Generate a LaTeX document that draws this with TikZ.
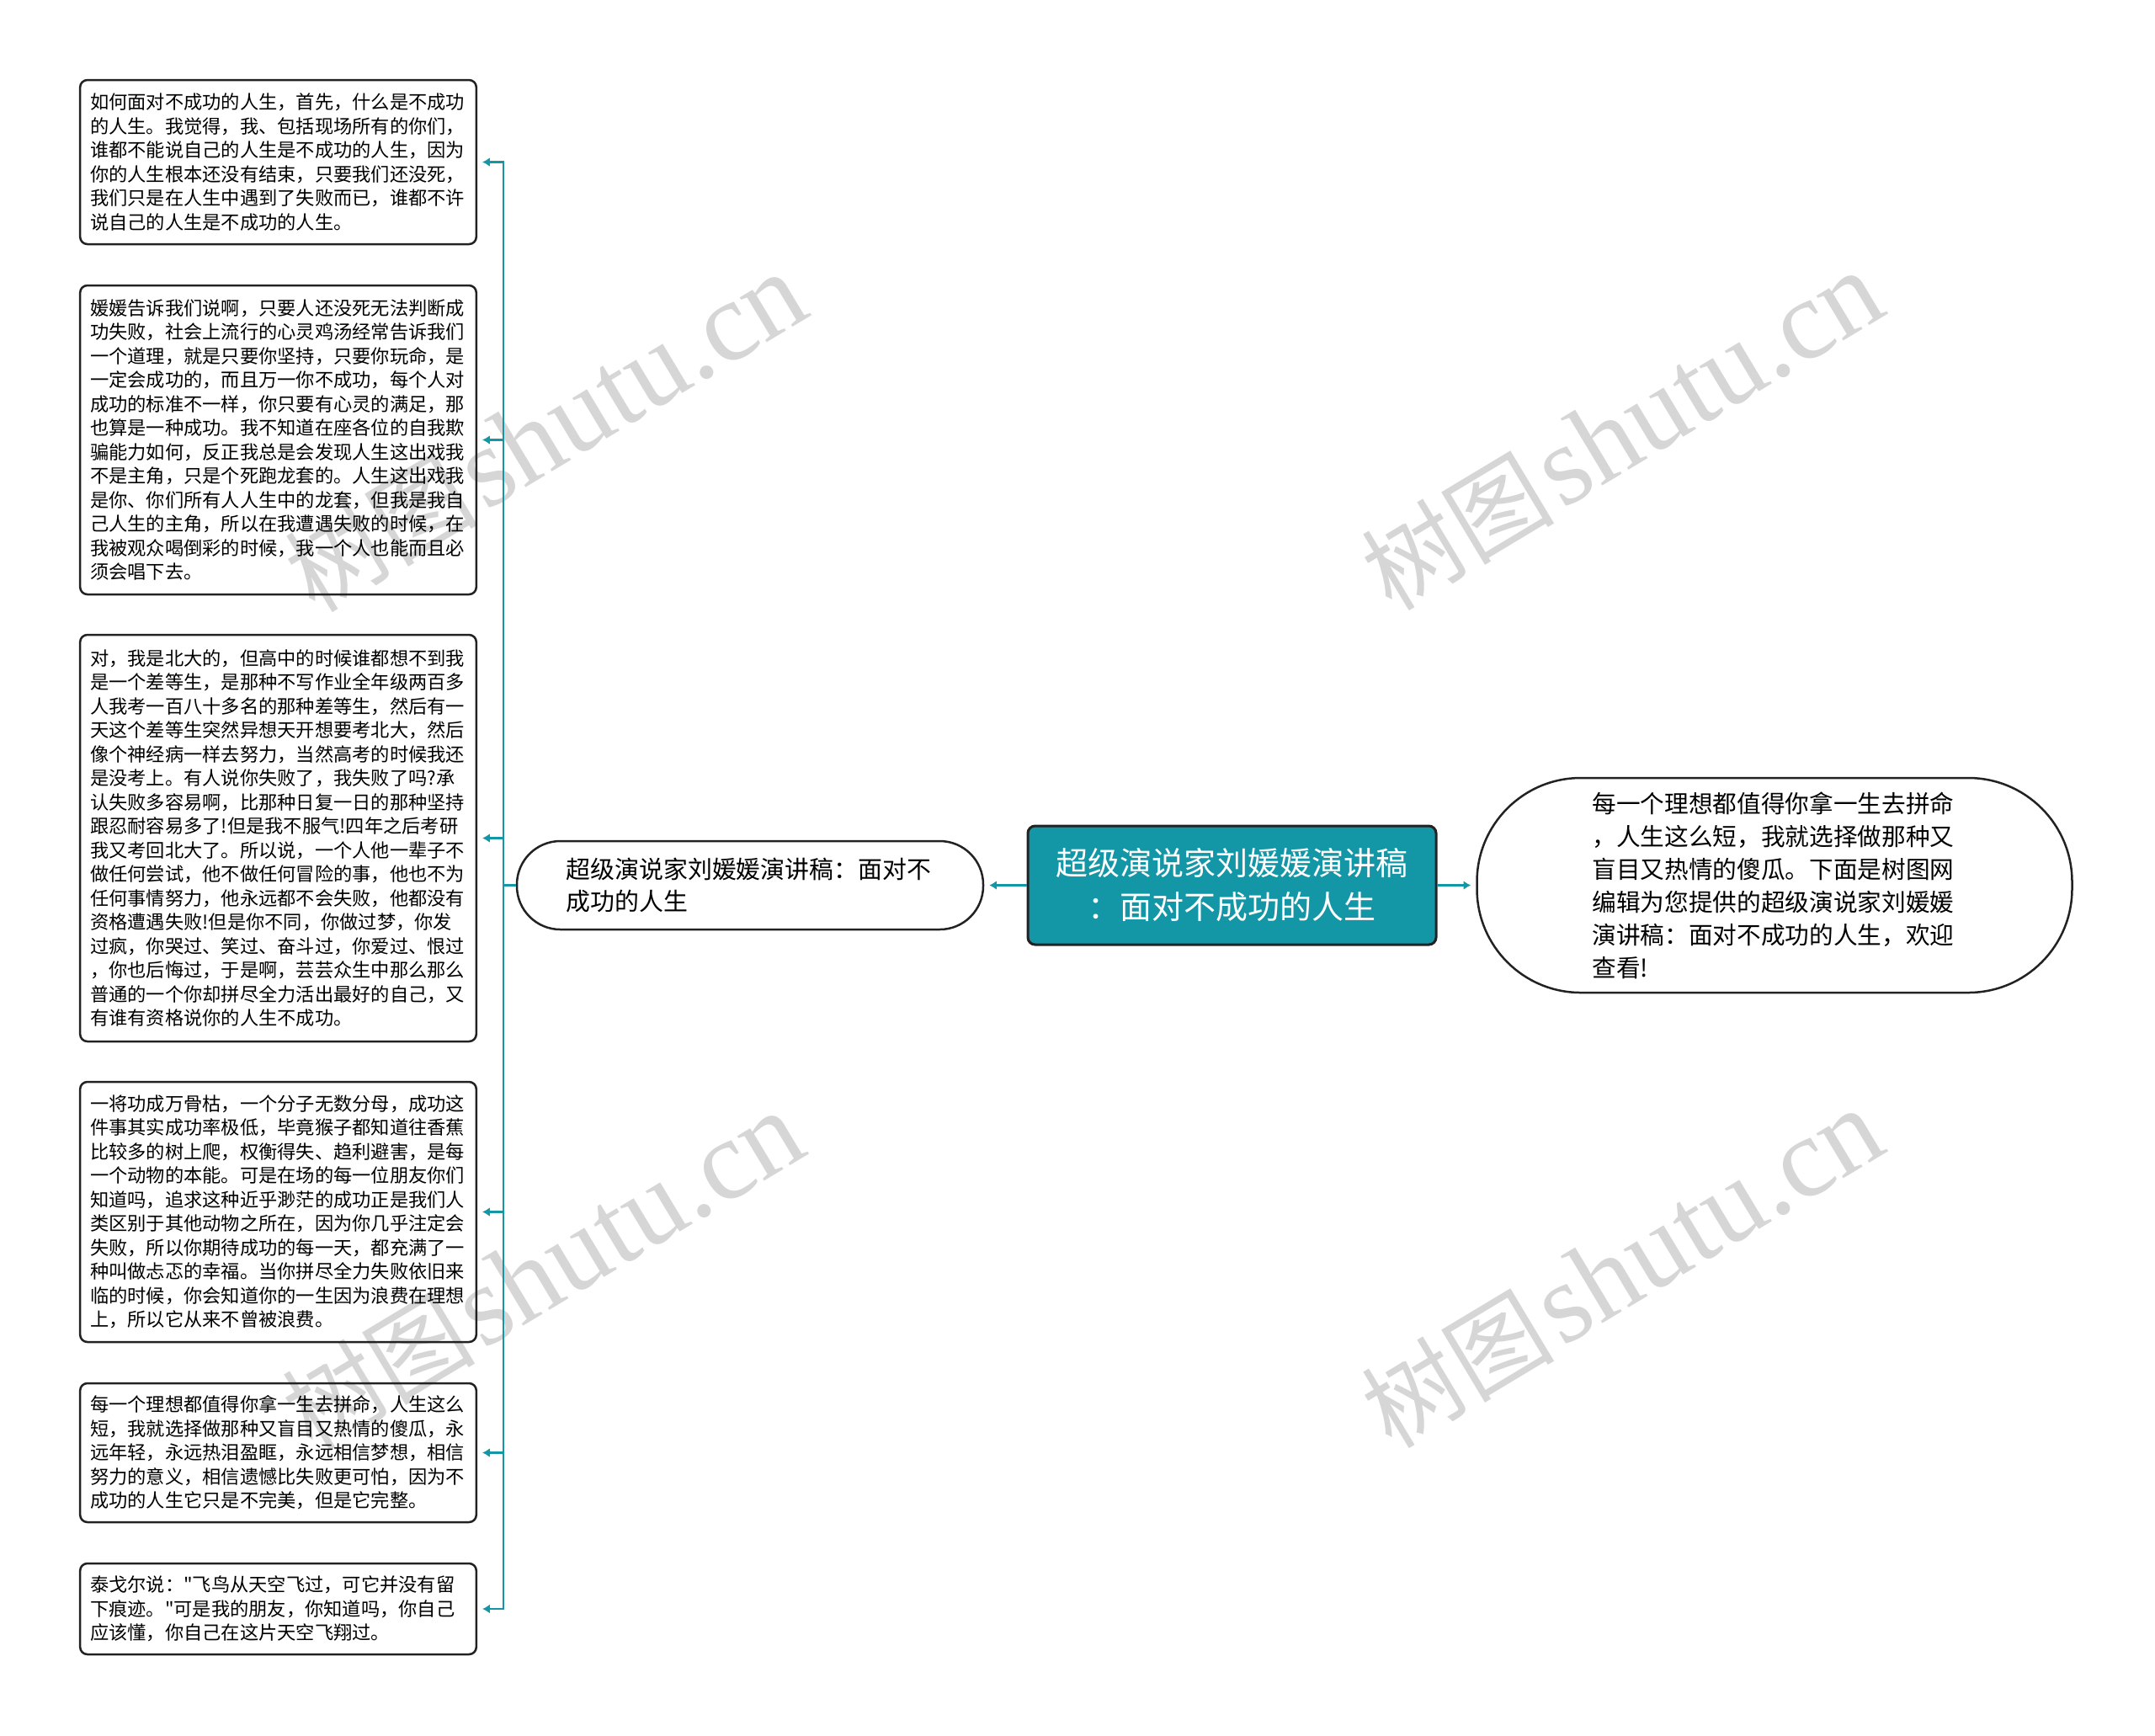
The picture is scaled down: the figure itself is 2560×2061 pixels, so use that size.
\documentclass[tikz,border=0pt]{standalone}
\usepackage{fontspec}
\setmainfont{Noto Sans CJK SC}[Ligatures=TeXOff]
\newfontfamily\wmlat{Liberation Serif}
\usetikzlibrary{arrows.meta}
\definecolor{teal1}{HTML}{1396A6}
\definecolor{wmgray}{HTML}{D6D6D6}
\definecolor{bord}{HTML}{222222}
\tikzset{
  smallbox/.style={draw=bord, line width=0.75pt, rounded corners=2.6pt, text width=134pt, align=left,
    inner xsep=3.6pt, inner ysep=0pt, minimum width=140.7pt,
    font=\fontsize{6.675pt}{8.55pt}\selectfont},
  conn/.style={draw=teal1, line width=0.8pt},
  tip/.style={-{Latex[length=2.6pt,width=3.2pt]}, shorten >=1.8pt},
  wm/.style={text=wmgray, rotate=31, inner sep=0pt}
}
\begin{document}
\begin{tikzpicture}[x=0.3pt,y=-0.3pt]
\fill[white] (0,0) rectangle (2560,2061);
\useasboundingbox (0,0) rectangle (2560,2061);

% watermarks
\foreach \wx/\wy in {648/514, 1927/512, 645/1510, 1927/1507}{
  \node[wm] at (\wx,\wy) {{\fontsize{34.5pt}{36pt}\selectfont 树图} {\wmlat\fontsize{40.5pt}{42pt}\selectfont shutu.cn}};
}

% central
\node[draw=bord, line width=0.9pt, fill=teal1, rounded corners=2.6pt, text=white,
  minimum width=145.5pt, minimum height=42.3pt, align=center,
  font=\fontsize{11.4pt}{15.6pt}\selectfont] (c) at (1463.5,1051.5)
  {超级演说家刘媛媛演讲稿\\：面对不成功的人生};

% left subtopic
\node[draw=bord, line width=0.75pt, rounded corners=15.5pt, minimum width=166.2pt, minimum height=31.5pt,
  text width=131pt, align=left, font=\fontsize{8.67pt}{11.25pt}\selectfont] (sub) at (891,1051.5)
  {超级演说家刘媛媛演讲稿：面对不\\成功的人生};

% right node
\node[draw=bord, line width=0.75pt, rounded corners=37pt, minimum width=212.1pt, minimum height=76.5pt,
  text width=130pt, align=left, font=\fontsize{8.6pt}{11.7pt}\selectfont] (r) at (2108,1051.5)
  {每一个理想都值得你拿一生去拼命\\，人生这么短，我就选择做那种又\\盲目又热情的傻瓜。下面是树图网\\编辑为您提供的超级演说家刘媛媛\\演讲稿：面对不成功的人生，欢迎\\查看!};

% left boxes
\node[smallbox, minimum height=58.5pt] (b1) at (330.5,192.5)
  {如何面对不成功的人生，首先，什么是不成功\\的人生。我觉得，我、包括现场所有的你们，\\谁都不能说自己的人生是不成功的人生，因为\\你的人生根本还没有结束，只要我们还没死，\\我们只是在人生中遇到了失败而已，谁都不许\\说自己的人生是不成功的人生。};

\node[smallbox, minimum height=110.1pt] (b2) at (330.5,522.5)
  {媛媛告诉我们说啊，只要人还没死无法判断成\\功失败，社会上流行的心灵鸡汤经常告诉我们\\一个道理，就是只要你坚持，只要你玩命，是\\一定会成功的，而且万一你不成功，每个人对\\成功的标准不一样，你只要有心灵的满足，那\\也算是一种成功。我不知道在座各位的自我欺\\骗能力如何，反正我总是会发现人生这出戏我\\不是主角，只是个死跑龙套的。人生这出戏我\\是你、你们所有人人生中的龙套，但我是我自\\己人生的主角，所以在我遭遇失败的时候，在\\我被观众喝倒彩的时候，我一个人也能而且必\\须会唱下去。};

\node[smallbox, minimum height=144.9pt] (b3) at (330.5,995.5)
  {对，我是北大的，但高中的时候谁都想不到我\\是一个差等生，是那种不写作业全年级两百多\\人我考一百八十多名的那种差等生，然后有一\\天这个差等生突然异想天开想要考北大，然后\\像个神经病一样去努力，当然高考的时候我还\\是没考上。有人说你失败了，我失败了吗?承\\认失败多容易啊，比那种日复一日的那种坚持\\跟忍耐容易多了!但是我不服气!四年之后考研\\我又考回北大了。所以说，一个人他一辈子不\\做任何尝试，他不做任何冒险的事，他也不为\\任何事情努力，他永远都不会失败，他都没有\\资格遭遇失败!但是你不同，你做过梦，你发\\过疯，你哭过、笑过、奋斗过，你爱过、恨过\\，你也后悔过，于是啊，芸芸众生中那么那么\\普通的一个你却拼尽全力活出最好的自己，又\\有谁有资格说你的人生不成功。};

\node[smallbox, minimum height=92.7pt] (b4) at (330.5,1439.5)
  {一将功成万骨枯，一个分子无数分母，成功这\\件事其实成功率极低，毕竟猴子都知道往香蕉\\比较多的树上爬，权衡得失、趋利避害，是每\\一个动物的本能。可是在场的每一位朋友你们\\知道吗，追求这种近乎渺茫的成功正是我们人\\类区别于其他动物之所在，因为你几乎注定会\\失败，所以你期待成功的每一天，都充满了一\\种叫做忐忑的幸福。当你拼尽全力失败依旧来\\临的时候，你会知道你的一生因为浪费在理想\\上，所以它从来不曾被浪费。};

\node[smallbox, minimum height=49.5pt] (b5) at (330.5,1725.5)
  {每一个理想都值得你拿一生去拼命，人生这么\\短，我就选择做那种又盲目又热情的傻瓜，永\\远年轻，永远热泪盈眶，永远相信梦想，相信\\努力的意义，相信遗憾比失败更可怕，因为不\\成功的人生它只是不完美，但是它完整。};

\node[smallbox, minimum height=32.4pt] (b6) at (330.5,1911)
  {泰戈尔说："飞鸟从天空飞过，可它并没有留\\下痕迹。"可是我的朋友，你知道吗，你自己\\应该懂，你自己在这片天空飞翔过。};

% connectors
\draw[conn, tip] (c.west) -- (sub.east);
\draw[conn, tip] (c.east) -- (r.west);
\coordinate (trunk) at (598,1051.5);
\draw[conn] (sub.west) -- (trunk);
\foreach \b in {b1,b2,b3,b4,b5,b6}{
  \draw[conn, tip] (trunk) |- (\b.east);
}
\end{tikzpicture}
\end{document}
